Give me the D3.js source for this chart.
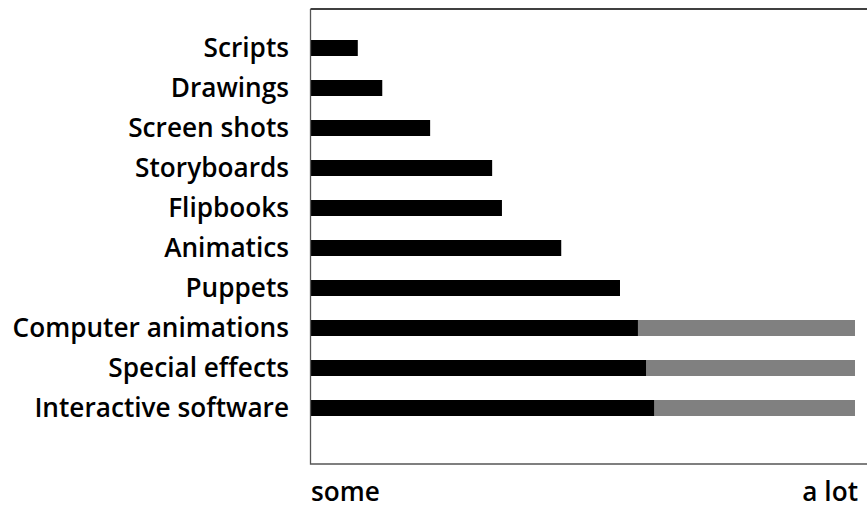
<!DOCTYPE html>
<html>
<head>
<meta charset="utf-8">
<script src="https://cdn.jsdelivr.net/npm/d3@7"></script>
<style>
body{margin:0;background:#fff;}
text{font-family:"Open Sans",sans-serif;}
</style>
</head>
<body>
<div id="chart"></div>
<script>
// categories top to bottom
const categories = ["Scripts","Drawings","Screen shots","Storyboards","Flipbooks","Animatics","Puppets","Computer animations","Special effects","Interactive software"];
// black part (0 = some, 100 = a lot)
const baseValues = [8.6,13.1,21.9,33.3,35.1,46,56.8,60.1,61.6,63.1];
// grey part reaches to here (null = none)
const extValues = [null,null,null,null,null,null,null,100,100,100];
const axisLabels = ["some","a lot"];

const W = 867, H = 510;
const m = {t: 9, l: 311, b: 464};
const fs = 26.2;

const svg = d3.select("#chart").append("svg")
    .attr("width", W).attr("height", H);

const xScale = d3.scaleLinear().domain([0,100]).range([m.l, 855]);
const yScale = d3.scaleBand().domain(categories)
    .range([28, 428]).paddingInner(0.6).paddingOuter(0.3);

const data = categories.map((c,i) => ({c:c, v:baseValues[i], e:extValues[i]}));

// grey extensions
svg.selectAll(".ext").data(data.filter(d => d.e != null)).enter()
    .append("rect").attr("class","ext")
    .attr("x", d => xScale(d.v))
    .attr("y", d => yScale(d.c))
    .attr("width", d => xScale(d.e) - xScale(d.v))
    .attr("height", yScale.bandwidth())
    .attr("fill", "#808080");

svg.selectAll(".bar").data(data).enter()
    .append("rect").attr("class","bar")
    .attr("x", xScale(0))
    .attr("y", d => yScale(d.c))
    .attr("width", d => xScale(d.v) - xScale(0))
    .attr("height", yScale.bandwidth())
    .attr("fill", "#000");

// frame
svg.append("path")
    .attr("d", "M" + W + "," + m.t + "H" + (m.l-0.5))
    .attr("fill","none").attr("stroke","#000").attr("stroke-width",1.3);
svg.append("path")
    .attr("d", "M" + (m.l-0.5) + "," + m.t + "V" + m.b + "H" + W)
    .attr("fill","none").attr("stroke","#555").attr("stroke-width",1.3);

// category labels
svg.selectAll(".lab").data(categories).enter()
    .append("text").attr("class","lab")
    .attr("x", 289)
    .attr("y", d => yScale(d) + yScale.bandwidth()/2)
    .attr("dy","0.35em")
    .attr("text-anchor","end")
    .attr("font-size", fs).attr("font-weight", 600)
    .text(d => d);

svg.append("text").attr("x", xScale(0)).attr("y", 501)
    .attr("font-size", fs).attr("font-weight", 600).text(axisLabels[0]);
svg.append("text").attr("x", 858).attr("y", 501).attr("text-anchor","end")
    .attr("font-size", fs).attr("font-weight", 600).text(axisLabels[1]);
</script>
</body>
</html>
